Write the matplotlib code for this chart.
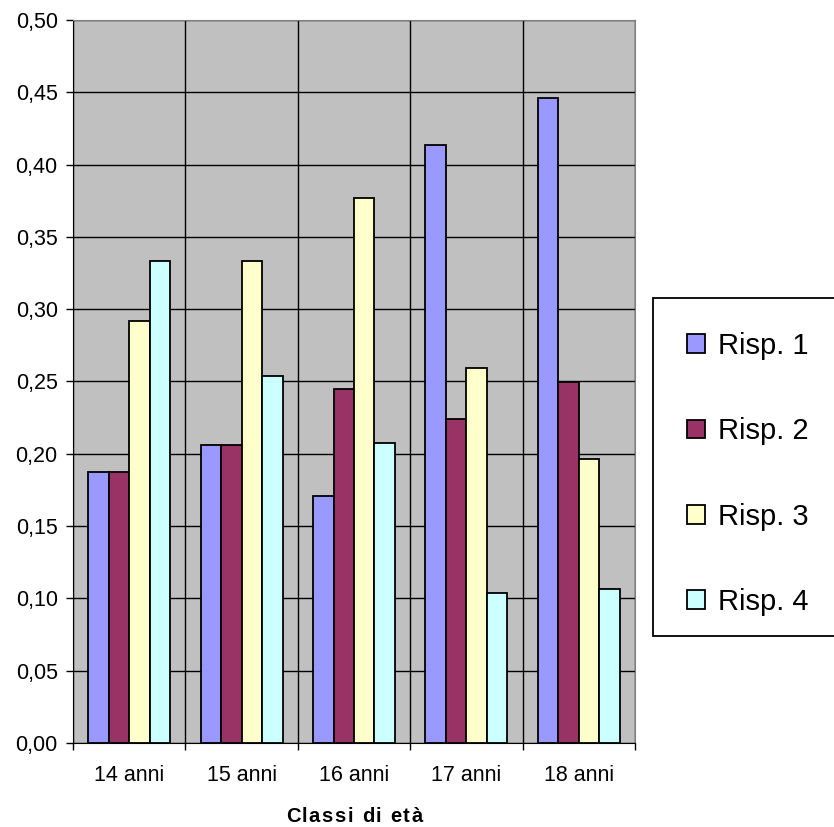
import numpy as np
import matplotlib.pyplot as plt
from matplotlib.patches import Rectangle
from matplotlib.ticker import FuncFormatter, MultipleLocator

plt.rcParams['font.family'] = ['Liberation Sans', 'DejaVu Sans']

categories = ['14 anni', '15 anni', '16 anni', '17 anni', '18 anni']
series_names = ['Risp. 1', 'Risp. 2', 'Risp. 3', 'Risp. 4']
risp1 = [0.1875, 0.2063, 0.1708, 0.4138, 0.4458]
risp2 = [0.1875, 0.2063, 0.2450, 0.2241, 0.2497]
risp3 = [0.2917, 0.3333, 0.3769, 0.2590, 0.1964]
risp4 = [0.3333, 0.2540, 0.2077, 0.1040, 0.1065]
colors = ['#9999FF', '#993366', '#FFFFCC', '#CCFFFF']
x_title = 'Classi di età'

W, H = 834, 827
fig = plt.figure(figsize=(W / 100, H / 100), dpi=100)
ax = fig.add_axes([73 / W, 84 / H, 562 / W, 723 / H])
ax.set_facecolor('#C0C0C0')

x = np.arange(len(categories))
w = 0.182
for i, vals in enumerate([risp1, risp2, risp3, risp4]):
    ax.bar(x + (i - 1.5) * w, vals, w, color=colors[i], edgecolor='black',
           linewidth=1.3, label=series_names[i], zorder=3)

ax.set_xlim(-0.5, len(categories) - 0.5)
ax.set_ylim(0, 0.5)
ax.yaxis.set_major_locator(MultipleLocator(0.05))
ax.yaxis.set_major_formatter(FuncFormatter(lambda v, p: f'{v:.2f}'.replace('.', ',')))
ax.set_xticks(x)
ax.set_xticklabels(categories)
ax.set_xticks(np.arange(len(categories) + 1) - 0.5, minor=True)

ax.grid(axis='y', which='major', color='black', linewidth=1, zorder=1)
ax.grid(axis='x', which='minor', color='black', linewidth=1, zorder=1)
ax.set_axisbelow(True)

ax.tick_params(axis='y', direction='out', length=5, width=1, labelsize=15.5, pad=6)
ax.tick_params(axis='x', which='major', length=0, labelsize=15.5, pad=16)
ax.tick_params(axis='x', which='minor', direction='out', length=5, width=1)

for s in ['top', 'right']:
    ax.spines[s].set_color('#808080')
ax.spines['left'].set_color('black')
ax.spines['bottom'].set_color('black')

# x title with letter spacing (Excel style)
renderer = fig.canvas.get_renderer()
def text_w(s):
    t = fig.text(0, 0, s + '|', fontsize=14.5, fontweight='bold')
    t0 = fig.text(0, 0, '|', fontsize=14.5, fontweight='bold')
    wd = t.get_window_extent(renderer).width - t0.get_window_extent(renderer).width
    t.remove()
    t0.remove()
    return wd

spacing = 1.6
total = text_w(x_title) + spacing * (len(x_title) - 1)
x0 = 354 - total / 2
for k, ch in enumerate(x_title):
    px = x0 + text_w(x_title[:k]) + spacing * k
    fig.text(px / W, (H - 817) / H, ch, fontsize=14.5, fontweight='bold',
             ha='left', va='center')

# legend frame
fig.patches.append(Rectangle((653 / W, (H - 636) / H), 0.25, 338 / H,
                             transform=fig.transFigure, facecolor='white',
                             edgecolor='black', linewidth=1.3, zorder=0))
leg = fig.legend(loc='center left', bbox_to_anchor=(661 / W, (H - 474) / H),
                 frameon=False, fontsize=21, labelspacing=1.97,
                 handlelength=0.62, handleheight=0.62, handletextpad=0.42)
for h in leg.legend_handles:
    h.set_edgecolor('black')
    h.set_linewidth(1.3)

fig.savefig('out.png', dpi=100)
